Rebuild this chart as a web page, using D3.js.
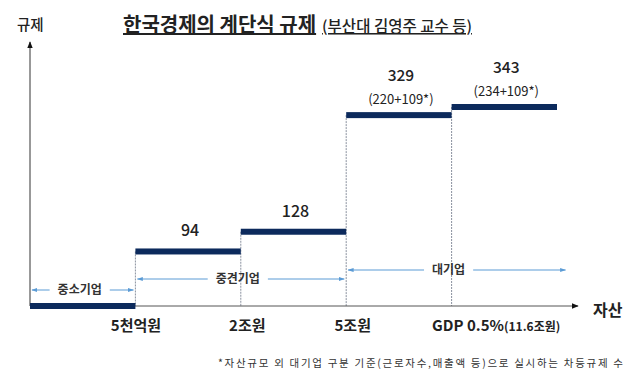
<!DOCTYPE html>
<html>
<head>
<meta charset="utf-8">
<script src="https://cdn.jsdelivr.net/npm/d3@7"></script>
<style>
  html, body { margin: 0; padding: 0; background: #fff; }
  svg { display: block; font-family: "Noto Sans CJK KR", "Noto Sans", sans-serif; }
</style>
</head>
<body>
<svg id="chart" width="640" height="373"></svg>
<script>
// ---- data ----
const stepValues = [0, 94, 128, 329, 343];
const stepLabels = ["", "94", "128", "329", "343"];
const stepNotes = ["", "", "", "(220+109*)", "(234+109*)"];
const tickLabels = ["5천억원", "2조원", "5조원", "GDP 0.5%"];
const tickNotes = ["", "", "", "(11.6조원)"];
const groupNames = ["중소기업", "중견기업", "대기업"];
const groupFrom = [0, 1, 3];
const groupTo = [1, 3, 5.1];
const titleMain = "한국경제의 계단식 규제";
const titleSub = "(부산대 김영주 교수 등)";
const yAxisTitle = "규제";
const xAxisTitle = "자산";
const footnote = "*자산규모 외 대기업 구분 기준(근로자수,매출액 등)으로 실시하는 차등규제 수";

// ---- setup ----
const svg = d3.select("#chart");
const barColor = "#0c2a5c";
const arrowBlue = "#5b9bd5";

const x = d3.scaleLinear().domain([0, 5]).range([30, 557]);
const y = d3.scaleLinear().domain([0, 343]).range([306, 107]);

const defs = svg.append("defs");
defs.append("marker").attr("id", "blk").attr("viewBox", "0 0 10 10")
  .attr("refX", 9).attr("refY", 5).attr("markerWidth", 7).attr("markerHeight", 7)
  .attr("markerUnits", "userSpaceOnUse").attr("orient", "auto")
  .append("path").attr("d", "M0,1 L10,5 L0,9 Z").attr("fill", "#111");
defs.append("marker").attr("id", "blu").attr("viewBox", "0 0 10 10")
  .attr("refX", 9).attr("refY", 5).attr("markerWidth", 6).attr("markerHeight", 6)
  .attr("markerUnits", "userSpaceOnUse").attr("orient", "auto")
  .append("path").attr("d", "M0,1.5 L10,5 L0,8.5 Z").attr("fill", arrowBlue);

// ---- title ----
const title = svg.append("text").attr("x", 123).attr("y", 32)
  .attr("fill", "#222").attr("text-decoration", "underline");
title.append("tspan").attr("font-size", 20).attr("font-weight", 700).text(titleMain);
title.append("tspan").attr("dx", 6).attr("font-size", 15.5).attr("font-weight", 500).text(titleSub);

// axis titles
svg.append("text").attr("x", 17).attr("y", 30).attr("font-size", 14.5)
  .attr("font-weight", 500).attr("fill", "#222").text(yAxisTitle);
svg.append("text").attr("x", 593).attr("y", 316).attr("font-size", 16)
  .attr("font-weight", 700).attr("fill", "#222").text(xAxisTitle);

// ---- vertical guide lines ----
svg.append("g").selectAll("line").data(d3.range(1, 5)).join("line")
  .attr("x1", i => x(i)).attr("x2", i => x(i))
  .attr("y1", i => y(stepValues[i])).attr("y2", y(0))
  .attr("stroke", "#7d8594").attr("stroke-width", 0.9)
  .attr("stroke-dasharray", "2,1");

// ---- axes lines ----
svg.append("line").attr("x1", x(0)).attr("x2", x(0))
  .attr("y1", y(0)).attr("y2", 42)
  .attr("stroke", "#333").attr("stroke-width", 1).attr("marker-end", "url(#blk)");
svg.append("line").attr("x1", x(0)).attr("x2", 578)
  .attr("y1", y(0)).attr("y2", y(0))
  .attr("stroke", "#555").attr("stroke-width", 1).attr("marker-end", "url(#blk)");

// ---- step bars ----
svg.append("g").selectAll("rect").data(stepValues).join("rect")
  .attr("x", (d, i) => x(i)).attr("width", (d, i) => x(i + 1) - x(i))
  .attr("y", d => y(d) - 3).attr("height", 6)
  .attr("fill", barColor);

// ---- value labels ----
stepValues.forEach((v, i) => {
  if (!stepLabels[i]) return;
  const cx = (x(i) + x(i + 1)) / 2 + 2;
  const hasNote = !!stepNotes[i];
  svg.append("text").attr("x", cx).attr("y", y(v) - (hasNote ? 34 : 15))
    .attr("text-anchor", "middle").attr("font-size", hasNote ? 15.5 : 16).attr("font-weight", 500)
    .attr("fill", "#222").text(stepLabels[i]);
  if (hasNote) {
    svg.append("text").attr("x", cx).attr("y", y(v) - 11)
      .attr("text-anchor", "middle").attr("font-size", 13).attr("font-weight", 400)
      .attr("fill", "#222").text(stepNotes[i]);
  }
});

// ---- tick labels via d3 axis ----
const xAxis = d3.axisBottom(x).tickValues([1, 2, 3, 4])
  .tickSize(0).tickPadding(0).tickFormat((d, i) => tickLabels[i]);
const ag = svg.append("g").attr("transform", "translate(0,320)").call(xAxis);
ag.select(".domain").remove();
ag.selectAll(".tick text")
  .attr("font-family", "\"Noto Sans CJK KR\", sans-serif")
  .attr("font-size", 15).attr("font-weight", 600).attr("fill", "#222")
  .attr("dy", "0.71em").attr("dx", (d, i) => i === 0 ? 0 : 6)
  .each(function (d, i) {
    if (tickNotes[i]) {
      const t = d3.select(this);
      t.attr("text-anchor", "start").attr("dx", -20);
      t.append("tspan").attr("font-size", 12).attr("font-weight", 600).text(tickNotes[i]);
    }
  });

// ---- group range arrows ----
const levels = [290, 279, 270];
groupNames.forEach((name, i) => {
  const x0 = x(groupFrom[i]) + 2, x1 = x(groupTo[i]) - 2;
  const cx = (x(groupFrom[i]) + x(Math.min(groupTo[i], 5))) / 2 - 3;
  const cy = levels[i];
  const t = svg.append("text").attr("x", cx).attr("y", cy).attr("dy", "0.35em")
    .attr("text-anchor", "middle").attr("font-size", 12).attr("font-weight", 700)
    .attr("fill", "#333").text(name);
  const w = t.node().getComputedTextLength();
  const gap = 8;
  svg.append("line").attr("x1", cx - w / 2 - gap).attr("x2", x0)
    .attr("y1", cy).attr("y2", cy).attr("stroke", arrowBlue).attr("stroke-width", 1)
    .attr("marker-end", "url(#blu)");
  svg.append("line").attr("x1", cx + w / 2 + gap).attr("x2", x1)
    .attr("y1", cy).attr("y2", cy).attr("stroke", arrowBlue).attr("stroke-width", 1)
    .attr("marker-end", "url(#blu)");
});

// ---- footnote ----
svg.append("text").attr("x", 218).attr("y", 367).attr("font-size", 10.5)
  .attr("fill", "#333").attr("textLength", 405).attr("lengthAdjust", "spacing")
  .text(footnote);
</script>
</body>
</html>
